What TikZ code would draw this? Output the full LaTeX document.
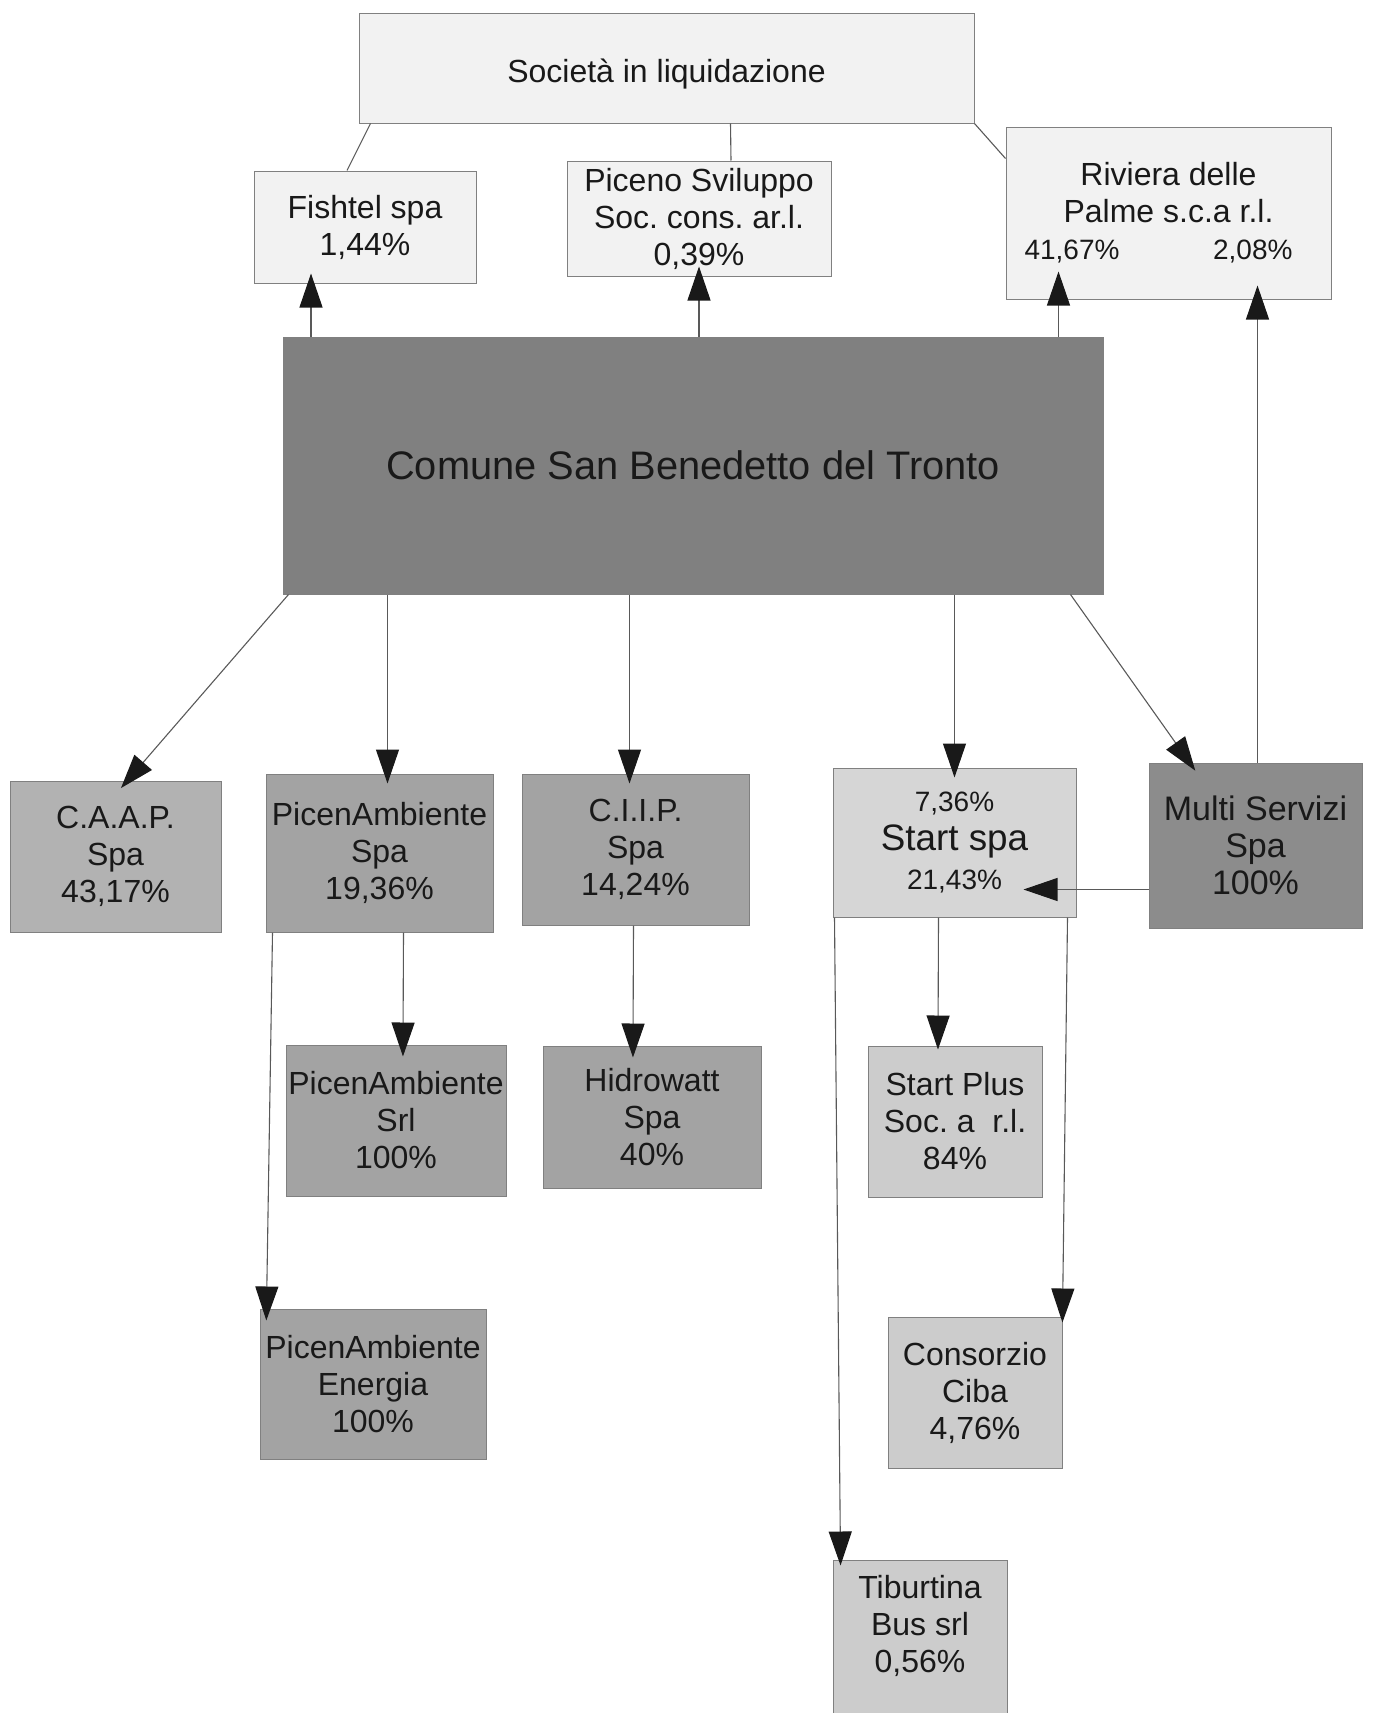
\documentclass[tikz,border=0pt]{standalone}
\usepackage{fontspec}
\setmainfont{Liberation Sans}
\usetikzlibrary{arrows.meta}
\newcommand{\pctsize}{\fontsize{14}{18.5}\selectfont}

\begin{document}
\begin{tikzpicture}[
    x=0.5pt, y=-0.5pt,
    box/.style={draw=black!50, line width=0.5pt, align=center, inner sep=0pt, text=black!90,
      font=\fontsize{16}{18.5}\selectfont\frenchspacing},
    topbox/.style={box, fill=black!5},
    mainbox/.style={box, fill=black!50, font=\fontsize{19.9}{22}\selectfont},
    midbox/.style={box, fill=black!36},
    caapbox/.style={box, fill=black!30},
    startbox/.style={box, fill=black!16, font=\fontsize{18.4}{19.5}\selectfont},
    multibox/.style={box, fill=black!45, font=\fontsize{17}{18.5}\selectfont},
    lightbox/.style={box, fill=black!20},
    arrow/.style={-{Triangle[length=17pt,width=11.5pt,color=black!90]}, draw=black!65, line width=0.55pt, shorten >=-5pt},
    link/.style={draw=black!65, line width=0.55pt}
  ]
    \useasboundingbox (0,0) rectangle (1375,1713);

    % top row
    \node[topbox, minimum width=307.5pt, minimum height=55pt, text height=18pt, text depth=4pt] (soc) at (666.5,68) {Società in liquidazione};
    \node[topbox, minimum width=111pt, minimum height=56pt] (fishtel) at (365,227) {Fishtel spa\\1,44\%};
    \node[topbox, minimum width=132pt, minimum height=57.5pt] (piceno) at (699,218.5) {Piceno Sviluppo\\Soc. cons. ar.l.\\0,39\%};
    \node[topbox, minimum width=162.5pt, minimum height=86pt] (riviera) at (1168.5,213)
      {Riviera delle\\Palme s.c.a r.l.\\{\pctsize\makebox[134pt]{41,67\%\hfill 2,08\%}\hspace*{10pt}}};

    \node[mainbox, minimum width=410pt, minimum height=128.5pt] (comune) at (693,465.5) {Comune San Benedetto del Tronto};

    % second row
    \node[caapbox, minimum width=105.5pt, minimum height=75.5pt] (caap) at (115.5,856.5) {C.A.A.P.\\Spa\\43,17\%};
    \node[midbox, minimum width=113.5pt, minimum height=79pt] (paspa) at (379.5,853) {PicenAmbiente\\Spa\\19,36\%};
    \node[midbox, minimum width=113.5pt, minimum height=75.5pt] (ciip) at (635.5,849.5) {C.I.I.P.\\Spa\\14,24\%};
    \node[startbox, minimum width=121.5pt, minimum height=74.5pt] (start) at (954.5,842.5)
      {{\pctsize 7,36\%}\\Start spa\\{\pctsize 21,43\%}};
    \node[multibox, minimum width=106.5pt, minimum height=82.5pt] (multi) at (1255.5,845.5) {Multi Servizi\\Spa\\100\%};

    % lower rows
    \node[midbox, minimum width=110pt, minimum height=75.5pt] (pasrl) at (396,1120.5) {PicenAmbiente\\Srl\\100\%};
    \node[midbox, minimum width=109pt, minimum height=71pt] (hidro) at (652,1117) {Hidrowatt\\Spa\\40\%};
    \node[lightbox, minimum width=87pt, minimum height=75.5pt] (splus) at (955,1121.5) {Start Plus\\Soc. a\ \ r.l.\\84\%};
    \node[midbox, minimum width=113pt, minimum height=75pt] (paen) at (373,1384) {PicenAmbiente\\Energia\\100\%};
    \node[lightbox, minimum width=87pt, minimum height=75.5pt] (ciba) at (975,1392.5) {Consorzio\\Ciba\\4,76\%};
    \node[lightbox, minimum width=87pt, minimum height=82.5pt] (tib) at (920,1642.5) {Tiburtina\\Bus srl\\0,56\%\\\mbox{}};

    % links to the companies in liquidation
    \draw[link] ([xshift=6pt]soc.south west) -- ([xshift=-9pt]fishtel.north);
    \draw[link] ([xshift=32pt]soc.south) -- ([xshift=16pt]piceno.north);
    \draw[link] (soc.south east) -- ([yshift=-16pt]riviera.north west);

    % shares upwards
    \draw[arrow] ([xshift=-27pt]fishtel.south |- comune.north) -- ([xshift=-27pt]fishtel.south);
    \draw[arrow] (piceno.south |- comune.north) -- (piceno.south);
    \draw[arrow, shorten >=-14pt] ([xshift=-55pt]riviera.south |- comune.north) -- ([xshift=-55pt]riviera.south);
    \draw[arrow, shorten >=-7pt] ([xshift=1pt]multi.north) -- ([xshift=1pt]multi.north |- riviera.south);

    % shares downwards
    \draw[arrow] ([xshift=3pt]comune.south west) -- ([xshift=6pt]caap.north);
    \draw[arrow] ([xshift=4pt]paspa.north |- comune.south) -- ([xshift=4pt]paspa.north);
    \draw[arrow] ([xshift=-3pt]ciip.north |- comune.south) -- ([xshift=-3pt]ciip.north);
    \draw[arrow] (start.north |- comune.south) -- (start.north);
    \draw[arrow] ([xshift=-16.5pt]comune.south east) -- ([xshift=20.5pt]multi.north west);

    \coordinate (msout) at ([yshift=-22pt]multi.west);
    \draw[arrow, shorten >=-26.5pt] (msout) -- (msout -| start.east);

    \draw[arrow, shorten >=-6pt] ([xshift=12pt]paspa.south) -- ([xshift=3.5pt]pasrl.north);
    \draw[arrow, shorten >=-6pt] ([xshift=3.5pt]paspa.south west) -- ([xshift=3.5pt]paen.north west);
    \draw[arrow, shorten >=-6pt] ([xshift=-1pt]ciip.south) -- ([xshift=-9.5pt]hidro.north);
    \draw[arrow, shorten >=-2pt] ([xshift=-8pt]start.south) -- ([xshift=-8.5pt]splus.north);
    \draw[arrow, shorten >=-3pt] ([xshift=-4.5pt]start.south east) -- (ciba.north east);
    \draw[arrow, shorten >=-3pt] ([xshift=1pt]start.south west) -- ([xshift=4pt]tib.north west);
  \end{tikzpicture}
\end{document}
